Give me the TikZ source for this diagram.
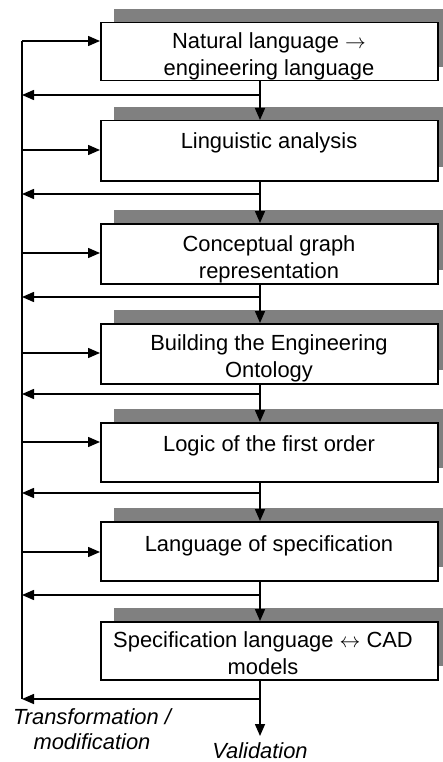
\documentclass[tikz,border=0pt]{standalone}
\usepackage{fontspec}
\setmainfont{Liberation Sans}
\usetikzlibrary{arrows.meta,shadows}
\definecolor{shadowgray}{RGB}{128,128,128}
\begin{document}
\begin{tikzpicture}[x=1pt,y=-1pt,
  stagebox/.style={draw=black, line width=1.5pt, fill=white, inner sep=0pt,
    anchor=north west, minimum width=337pt,
    drop shadow={shadow xshift=13pt, shadow yshift=13.5pt, fill=shadowgray, opacity=1}},
  lbl/.style={anchor=base, align=center, inner sep=0pt,
    font=\fontsize{21.9}{27}\selectfont},
  ilbl/.style={anchor=base, align=center, inner sep=0pt,
    font=\fontsize{21.9}{25}\selectfont\itshape},
  conn/.style={line width=1.5pt, draw=black},
  arr/.style={conn, -{Triangle[length=12pt,width=10pt]}}]
\useasboundingbox[fill=white] (0,0) rectangle (442,762);
% boxes
\node[stagebox, minimum height=58pt] (b1) at (100,22) {};
\node[stagebox, minimum height=60pt] (b2) at (100,120) {};
\node[stagebox, minimum height=60pt] (b3) at (100,223) {};
\node[stagebox, minimum height=60pt] (b4) at (100,323) {};
\node[stagebox, minimum height=59pt] (b5) at (100,422) {};
\node[stagebox, minimum height=59pt] (b6) at (100,521) {};
\node[stagebox, minimum height=58pt] (b7) at (100,621) {};
% texts (base anchor = baseline of the last line)
\node[lbl] (t1) at (269,76) {Natural language $\rightarrow$\\engineering language};
\node[lbl] (t2) at (269,149) {Linguistic analysis};
\node[lbl] (t3) at (269,278) {Conceptual graph\\representation};
\node[lbl] (t4) at (269,377) {Building the Engineering\\Ontology};
\node[lbl] (t5) at (269,451) {Logic of the first order};
\node[lbl] (t6) at (269,551) {Language of specification};
\node[lbl] (t7) at (263,674) {Specification language $\leftrightarrow$ CAD\\models};
% reference coordinates
\coordinate (mx) at (260,0);
\coordinate (spine) at (22,0);
\coordinate (stop) at (22,41);
\coordinate (sbot) at (22,699);
% spine
\draw[conn] (stop) -- (sbot);
% arrows into boxes
\coordinate (i1) at (22,41);
\coordinate (i2) at (22,150);
\coordinate (i3) at (22,253);
\coordinate (i4) at (22,353);
\coordinate (i5) at (22,442);
\coordinate (i6) at (22,552);
\foreach \i in {1,...,6} {\draw[arr] (i\i) -- (i\i -| b\i.west);}
% vertical connectors between boxes
\foreach \i/\j in {1/2,2/3,3/4,4/5,5/6,6/7} {\draw[arr] (b\i.south -| mx) -- (b\j.north -| mx);}
% feedback arrows
\coordinate (f1) at (260,95);
\coordinate (f2) at (260,194);
\coordinate (f3) at (260,297);
\coordinate (f4) at (260,394);
\coordinate (f5) at (260,493);
\coordinate (f6) at (260,595);
\coordinate (f7) at (260,699);
\foreach \i in {1,...,7} {\draw[arr] (f\i) -- (f\i -| spine);}
% final output
\coordinate (vend) at (260,736);
\draw[arr] (b7.south -| mx) -- (vend);
\node[ilbl] (val) at (260,758) {Validation};
\node[ilbl] (trans) at (92,749) {Transformation /\\modification};
\end{tikzpicture}
\end{document}
